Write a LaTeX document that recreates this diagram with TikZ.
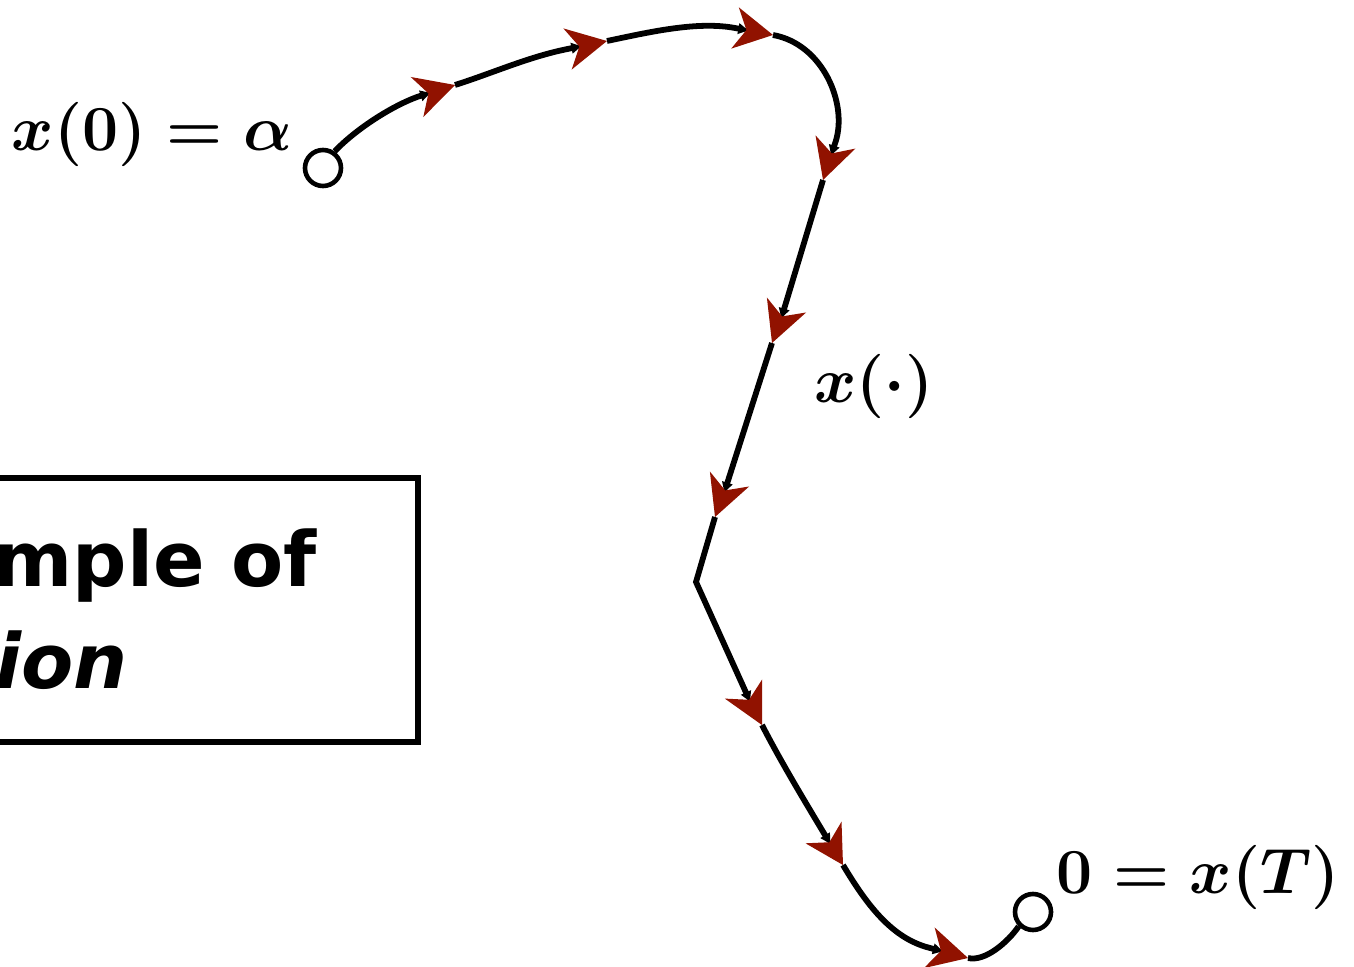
\documentclass[tikz,border=0pt]{standalone}
\usepackage[no-math]{fontspec}
\newfontfamily\boxfont{DejaVu Sans}[BoldFont={DejaVu Sans Bold},BoldItalicFont={DejaVu Sans Bold Oblique}]
\usetikzlibrary{arrows.meta,calc}
\definecolor{arrred}{RGB}{145,18,0}
\tikzset{
  traj/.style={line width=2.9pt, -{Latex[length=6pt,width=6pt]}},
  trajplain/.style={line width=2.9pt},
  endpt/.style={circle, draw, fill=white, line width=2.3pt, minimum size=18pt, inner sep=0pt},
  lbl/.style={inner sep=0pt, font=\fontsize{24.88}{30}\selectfont\boldmath},
  boxtxt/.style={anchor=base west, inner sep=0pt, font=\boxfont\bfseries\fontsize{38}{46}\selectfont},
}
\newcommand\redhead[2]{\fill[arrred] (#2) -- ($(#1)!10.5pt!90:(#2)$) -- ($(#1)!0.3!(#2)$) -- ($(#1)!10.5pt!-90:(#2)$) -- cycle;}
\newcommand\biglbl[1]{\scalebox{1.29}{#1}}
\begin{document}
\begin{tikzpicture}[x=0.5pt,y=-0.5pt]
\useasboundingbox (0,0) rectangle (1354,967);
\clip (0,0) rectangle (1354,967);

% box (cut by the left edge)
\draw[line width=3pt] (-20,478) rectangle (418,742);
\node[boxtxt] (l1) at (-7,587) {mple of};
\node[boxtxt, font=\boxfont\bfseries\itshape\fontsize{38}{46}\selectfont] (l2) at (-5,688) {ion};

% end points
\node[endpt] (S) at (323,168) {};
\node[endpt] (E) at (1033,912) {};

% labels
\node[lbl] (a0) at (152,134) {\biglbl{$x(0) = \alpha$}};
\node[lbl] (xd) at (874,386) {\biglbl{$x(\cdot)$}};
\node[lbl] (xT) at (1198,877) {\biglbl{$0 = x(T)$}};

% arrow positions: back centre B, tip T
\coordinate (B1) at (417,97);     \coordinate (T1) at (455,85);
\coordinate (B2) at (567.5,49);   \coordinate (T2) at (607,41);
\coordinate (B3) at (735,28);     \coordinate (T3) at (773,35);
\coordinate (B4) at (835.5,142);  \coordinate (T4) at (823,180);
\coordinate (B5) at (786.5,305);  \coordinate (T5) at (772,343);
\coordinate (B6) at (729.5,479);  \coordinate (T6) at (715,517);
\coordinate (K)  at (696,582);
\coordinate (B7) at (743.5,689);  \coordinate (T7) at (762,725);
\coordinate (B8) at (823.5,832.5);\coordinate (T8) at (843,865);
\coordinate (B9) at (929.3,947.8);\coordinate (T9) at (968,958);

% trajectory
\draw[traj] (S.55) .. controls (355,130) and (390,107) .. (B1) -- ($(B1)!0.4!(T1)$);
\draw[traj] (T1) .. controls (493,73) and (528,57) .. (B2) -- ($(B2)!0.4!(T2)$);
\draw[traj] (T2) .. controls (650,32) and (697,21) .. (B3) -- ($(B3)!0.4!(T3)$);
\draw[traj] (T3) .. controls (823,44) and (848,104) .. (B4) -- ($(B4)!0.4!(T4)$);
\draw[traj] (T4) -- ($(B5)!0.4!(T5)$);
\draw[traj] (T5) -- ($(B6)!0.4!(T6)$);
\draw[traj] (T6) -- (K) -- ($(B7)!0.4!(T7)$);
\draw[traj] (T7) .. controls (780.5,761) and (804,800) .. (B8) -- ($(B8)!0.4!(T8)$);
\draw[traj] (T8) .. controls (868,907) and (893,938.5) .. (B9) -- ($(B9)!0.4!(T9)$);
\draw[trajplain] (T9) .. controls (985,962) and (1008,942) .. (E.225);

% red heads
\redhead{B1}{T1}
\redhead{B2}{T2}
\redhead{B3}{T3}
\redhead{B4}{T4}
\redhead{B5}{T5}
\redhead{B6}{T6}
\redhead{B7}{T7}
\redhead{B8}{T8}
\redhead{B9}{T9}
\end{tikzpicture}
\end{document}
